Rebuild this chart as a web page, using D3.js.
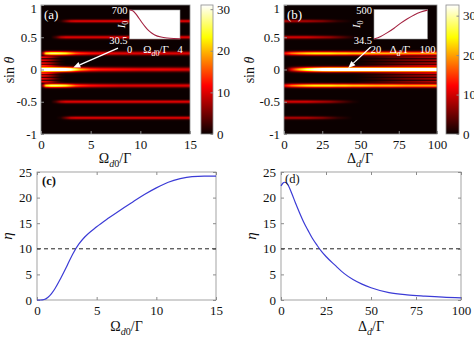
<!DOCTYPE html>
<html><head><meta charset="utf-8">
<script src="https://cdn.jsdelivr.net/npm/d3@7"></script>
<style>body{margin:0;background:#fff}svg{display:block;font-family:"Liberation Serif","Times New Roman",serif}</style>
</head><body><svg id="c" width="474" height="338" font-family="Liberation Serif, Times New Roman, serif"></svg>
<script>
// ---------------- DATA ----------------
// Panel (a): sin(theta) vs Omega_d0/Gamma ; stripe peak intensities along x
const aOmega   = [0, 0.25, 0.5, 1, 1.5, 2, 2.5, 3, 3.5, 4, 5, 6, 8, 10, 12, 15];
const aOrder0  = [45, 45, 45, 45, 43, 41, 38, 34, 26, 20, 15, 13, 12, 11, 11, 10];
const aOrder25 = [2, 10, 23, 27, 27, 26, 24, 20, 16, 14, 12, 11, 10, 10, 10, 10];
const aOrder50 = [0, 0, 0, 0, 3, 8, 10, 10, 10, 10, 10, 10, 10, 10, 10, 10];
const aOrder75 = [0, 0, 0, 0, 0, 1, 5, 9, 10, 10, 10, 10, 10, 10, 10, 10];
const aFine    = [12, 12, 11, 8, 4, 1, 0, 0, 0, 0, 0, 0, 0, 0, 0, 0];
// Panel (b): sin(theta) vs Delta_d/Gamma
const bDelta   = [0, 2, 5, 10, 15, 20, 25, 30, 35, 40, 45, 50, 60, 70, 80, 90, 100];
const bOrder0  = [0, 3, 12, 22, 30, 36, 40, 42, 42, 42, 42, 42, 42, 42, 42, 42, 42];
const bOrder25 = [11, 14, 18, 21, 23, 24, 24, 24, 23, 23, 22, 22, 21, 21, 20, 20, 20];
const bOrder50 = [10, 10, 10, 10, 10, 9, 8, 7, 5, 3, 1, 0, 0, 0, 0, 0, 0];
const bOrder75 = [8, 8, 8, 8, 8, 7, 6, 4, 2, 1, 0, 0, 0, 0, 0, 0, 0];
const bFine    = [0, 0, 0, 0, 0, 0, 0, 0, 0, 0, 0, 0.5, 2, 4, 6, 7.5, 9];
const finePos  = [0.06, 0.1, 0.145, 0.19];
// insets
const insAx = [0, 0.25, 0.5, 0.75, 1, 1.25, 1.5, 1.75, 2, 2.5, 3, 3.5, 4];
const insAy = [700, 685, 610, 510, 405, 310, 230, 170, 125, 75, 52, 41, 36];
const insBx = [20, 30, 40, 50, 60, 70, 80, 90, 100];
const insBy = [34.5, 75, 135, 205, 285, 355, 415, 460, 490];
// Panel (c)
const cOmega = [0, 0.3, 0.6, 0.9, 1.2, 1.5, 2, 2.5, 3, 3.5, 4, 5, 6, 7, 8, 9, 10, 11, 12, 13, 14, 15];
const cEta   = [0, 0, 0.1, 0.5, 1.2, 2.2, 4.3, 6.6, 9.0, 10.9, 12.3, 14.3, 16.0, 17.6, 19.1, 20.6, 21.9, 23.0, 23.7, 24.1, 24.2, 24.2];
// Panel (d)
const dDelta = [0, 1, 2, 3, 4, 6, 8, 10, 12.5, 15, 17.5, 20, 22.5, 25, 30, 35, 40, 45, 50, 60, 70, 80, 90, 100];
const dEta   = [22.3, 22.8, 23.0, 22.9, 22.4, 20.8, 19.0, 17.3, 15.3, 13.6, 12.0, 10.7, 9.5, 8.5, 6.8, 5.2, 4.0, 3.1, 2.4, 1.45, 1.0, 0.75, 0.55, 0.42];
const threshold = 10;
const sinTicks = [-1, -0.5, 0, 0.5, 1];
const aXTicks = [0, 5, 10, 15];
const bXTicks = [0, 25, 50, 75, 100];
const etaTicks = [0, 5, 10, 15, 20, 25];
const cbTicks = [0, 10, 20, 30];

// ---------------- HELPERS ----------------
const FONT = 'Liberation Serif, Times New Roman, serif';
const svg = d3.select('#c');
const defs = svg.append('defs');
const FRAME = '#8c8c8c';

function rich(sel, parts, size) {
  let shifted = 0;
  parts.forEach(p => {
    const ts = sel.append('tspan').text(p.t);
    if (p.i) ts.attr('font-style', 'italic');
    const want = p.sub ? size * 0.3 : 0;
    if (want !== shifted) { ts.attr('dy', want - shifted); shifted = want; }
    if (p.sub) ts.attr('font-size', size * 0.72);
  });
}
const OMEGA = [{t:'Ω'},{t:'d',i:true,sub:true},{t:'0',sub:true},{t:'/Γ'}];
const DELTA = [{t:'Δ'},{t:'d',i:true,sub:true},{t:'/Γ'}];
const SIN = [{t:'sin '},{t:'θ',i:true}];
const IZERO = [{t:'I',i:true},{t:'0',sub:true}];

function hotScale(cmax) {
  return d3.scaleLinear().domain([0, 0.375*cmax, 0.75*cmax, cmax])
    .range(['#0b0000', '#ff0000', '#ffff00', '#ffffff']).clamp(true);
}
function styleAxis(a) {
  a.attr('font-family', FONT);
  a.select('.domain').remove();
  a.selectAll('line').attr('stroke', FRAME);
  a.selectAll('text').attr('font-size', 13).attr('fill', '#111').attr('font-family', FONT);
}

function heatmap(o) {
  const xs = d3.scaleLinear().domain(o.xDomain).range([o.x0, o.x1]);
  const ys = d3.scaleLinear().domain([-1, 1]).range([o.y1, o.y0]);
  const color = hotScale(o.cmax);
  const g = svg.append('g');
  g.append('rect').attr('x', o.x0).attr('y', o.y0).attr('width', o.x1 - o.x0).attr('height', o.y1 - o.y0).attr('fill', color(0));
  const n = Math.round(o.y1 - o.y0);
  d3.range(n).forEach(i => {
    const s = ys.invert(o.y0 + i + 0.5);
    const vals = o.samples.map((_, k) => d3.sum(o.stripes, st => st.vals[k] * Math.exp(-((s - st.pos) ** 2) / (2 * st.sigma ** 2))));
    if (d3.max(vals) < 0.3) return;
    const gid = o.id + 'r' + i;
    const lg = defs.append('linearGradient').attr('id', gid).attr('x1', 0).attr('x2', 1).attr('y1', 0).attr('y2', 0);
    o.samples.forEach((v, k) => lg.append('stop').attr('offset', (xs(v) - o.x0) / (o.x1 - o.x0)).attr('stop-color', color(vals[k])));
    g.append('rect').attr('x', o.x0).attr('y', o.y0 + i).attr('width', o.x1 - o.x0).attr('height', 1.15).attr('fill', `url(#${gid})`);
  });
  g.append('rect').attr('x', o.x0).attr('y', o.y0).attr('width', o.x1 - o.x0).attr('height', o.y1 - o.y0)
    .attr('fill', 'none').attr('stroke', FRAME).attr('stroke-width', 0.8);
  const ya = svg.append('g').attr('transform', `translate(${o.x0},0)`)
    .call(d3.axisLeft(ys).tickValues(sinTicks).tickFormat(d => String(d)).tickSize(-3).tickPadding(4));
  const xa = svg.append('g').attr('transform', `translate(0,${o.y1})`)
    .call(d3.axisBottom(xs).tickValues(o.xTicks).tickFormat(d => String(d)).tickSize(-3).tickPadding(6));
  styleAxis(ya); styleAxis(xa);
  ya.selectAll('.tick').filter(d => d === 1).select('text').attr('dy', '0.55em');
  // colorbar
  const cs = d3.scaleLinear().domain([0, o.cmax]).range([o.y1, o.y0]);
  const cg = defs.append('linearGradient').attr('id', o.id + 'cb').attr('x1', 0).attr('x2', 0).attr('y1', 1).attr('y2', 0);
  color.domain().forEach(v => cg.append('stop').attr('offset', v / o.cmax).attr('stop-color', color(v)));
  svg.append('rect').attr('x', o.cbx).attr('y', o.y0).attr('width', o.cbw).attr('height', o.y1 - o.y0)
    .attr('fill', `url(#${o.id}cb)`).attr('stroke', FRAME).attr('stroke-width', 0.8);
  const ca = svg.append('g').attr('transform', `translate(${o.cbx + o.cbw},0)`)
    .call(d3.axisRight(cs).tickValues(cbTicks).tickFormat(d => String(d)).tickSize(-2.5).tickPadding(4));
  styleAxis(ca);
  return {xs, ys};
}

function stripesFrom(o0, o25, o50, o75, fine) {
  const st = [{pos: 0, vals: o0, sigma: 0.024},
    {pos: 0.25, vals: o25, sigma: 0.021}, {pos: -0.25, vals: o25, sigma: 0.021},
    {pos: 0.5, vals: o50, sigma: 0.018}, {pos: -0.5, vals: o50, sigma: 0.018},
    {pos: 0.75, vals: o75, sigma: 0.017}, {pos: -0.75, vals: o75, sigma: 0.017}];
  finePos.forEach(p => { st.push({pos: p, vals: fine, sigma: 0.011}); st.push({pos: -p, vals: fine, sigma: 0.011}); });
  return st;
}

function inset(o) {
  const xs = d3.scaleLinear().domain(o.xd).range([o.x0, o.x1]);
  const ys = d3.scaleLinear().domain(o.yd).range([o.y1, o.y0]);
  svg.append('rect').attr('x', o.x0).attr('y', o.y0).attr('width', o.x1 - o.x0).attr('height', o.y1 - o.y0)
    .attr('fill', '#fff').attr('stroke', '#999').attr('stroke-width', 0.6);
  svg.append('path').datum(o.x.map((v, i) => [v, o.y[i]]))
    .attr('d', d3.line().x(d => xs(d[0])).y(d => ys(d[1])).curve(d3.curveMonotoneX))
    .attr('fill', 'none').attr('stroke', '#a3213f').attr('stroke-width', 1.1);
  const t = (x, y, anchor, txt) => svg.append('text').attr('x', x).attr('y', y).attr('text-anchor', anchor)
    .attr('fill', '#fff').attr('font-size', 10.5).text(txt);
  t(o.x0 - 2, ys(o.yd[1]) + 4, 'end', o.ylab[1]);
  t(o.x0 - 2, ys(o.yd[0]) + 5, 'end', o.ylab[0]);
  t(xs(o.xd[0]) + o.x0off, o.y1 + 14, 'middle', o.xlab[0]);
  t(xs(o.xd[1]), o.y1 + 14, 'middle', o.xlab[1]);
  const xl = svg.append('text').attr('x', o.xlx).attr('y', o.y1 + 14).attr('text-anchor', 'middle').attr('fill', '#fff').attr('font-size', 11);
  rich(xl, o.xparts, 11);
  const yl = svg.append('text').attr('transform', `translate(${o.ilx},${(o.y0 + o.y1) / 2}) rotate(-90)`)
    .attr('text-anchor', 'middle').attr('fill', '#fff').attr('font-size', 11);
  rich(yl, IZERO, 11);
}

function arrow(xs, ys, from, to) {
  const x1 = xs(from[0]), y1 = ys(from[1]), x2 = xs(to[0]), y2 = ys(to[1]);
  const ang = Math.atan2(y2 - y1, x2 - x1), L = 7, W = 3;
  const bx = x2 - L * Math.cos(ang), by = y2 - L * Math.sin(ang);
  svg.append('line').attr('x1', x1).attr('y1', y1).attr('x2', bx).attr('y2', by).attr('stroke', '#fff').attr('stroke-width', 1.3);
  svg.append('path').attr('d', `M${x2},${y2}L${bx + W * Math.sin(ang)},${by - W * Math.cos(ang)}L${bx - W * Math.sin(ang)},${by + W * Math.cos(ang)}Z`).attr('fill', '#fff');
}

function axisLabelX(x, y, parts, size) {
  const t = svg.append('text').attr('x', x).attr('y', y).attr('text-anchor', 'middle').attr('font-size', size).attr('fill', '#111');
  rich(t, parts, size);
}
function axisLabelY(x, y, parts, size) {
  const t = svg.append('text').attr('transform', `translate(${x},${y}) rotate(-90)`).attr('text-anchor', 'middle').attr('font-size', size).attr('fill', '#111');
  rich(t, parts, size);
}

// ---------------- PANEL (a) ----------------
const A = heatmap({id: 'ha', x0: 41, x1: 190, y0: 5, y1: 134, xDomain: [0, 15], samples: aOmega,
  stripes: stripesFrom(aOrder0, aOrder25, aOrder50, aOrder75, aFine), cmax: 31, xTicks: aXTicks, cbx: 201, cbw: 12});
inset({x0: 129.5, x1: 180, y0: 10, y1: 39, xd: [0, 4], yd: [30.5, 700], x: insAx, y: insAy,
  ylab: ['30.5', '700'], xlab: ['0', '4'], xparts: OMEGA, xlx: 156, ilx: 125, x0off: 0});
arrow(A.xs, A.ys, [7.75, 0.33], [3.25, 0.03]);
svg.append('text').attr('x', 44).attr('y', 19).attr('fill', '#fff').attr('font-size', 13).text('(a)');
axisLabelX(115, 163, OMEGA, 14);
axisLabelY(14, 70, SIN, 14);

// ---------------- PANEL (b) ----------------
const B = heatmap({id: 'hb', x0: 284, x1: 437, y0: 5, y1: 134, xDomain: [0, 100], samples: bDelta,
  stripes: stripesFrom(bOrder0, bOrder25, bOrder50, bOrder75, bFine), cmax: 32.7, xTicks: bXTicks, cbx: 446, cbw: 13});
inset({x0: 374, x1: 427.5, y0: 9.5, y1: 39, xd: [20, 100], yd: [34.5, 500], x: insBx, y: insBy,
  ylab: ['34.5', '500'], xlab: ['20', '100'], xparts: DELTA, xlx: 400, ilx: 360, x0off: 2});
arrow(B.xs, B.ys, [56.7, 0.35], [42, 0.025]);
svg.append('text').attr('x', 287).attr('y', 19).attr('fill', '#fff').attr('font-size', 13).text('(b)');
axisLabelX(360, 163, DELTA, 14);
axisLabelY(254, 70, SIN, 14);

// ---------------- LINE PANELS ----------------
function linePanel(o) {
  const xs = d3.scaleLinear().domain(o.xd).range([o.x0, o.x1]);
  const ys = d3.scaleLinear().domain([0, 25]).range([o.y1, o.y0]);
  svg.append('rect').attr('x', o.x0).attr('y', o.y0).attr('width', o.x1 - o.x0).attr('height', o.y1 - o.y0)
    .attr('fill', '#fff').attr('stroke', FRAME).attr('stroke-width', 0.8);
  const ya = svg.append('g').attr('transform', `translate(${o.x0},0)`)
    .call(d3.axisLeft(ys).tickValues(etaTicks).tickFormat(d => String(d)).tickSize(-3).tickPadding(5));
  const xa = svg.append('g').attr('transform', `translate(0,${o.y1})`)
    .call(d3.axisBottom(xs).tickValues(o.ticks).tickFormat(d => String(d)).tickSize(-3).tickPadding(6));
  styleAxis(ya); styleAxis(xa);
  const ya2 = svg.append('g').attr('transform', `translate(${o.x1},0)`).call(d3.axisRight(ys).tickValues(etaTicks).tickSize(-3).tickFormat(''));
  const xa2 = svg.append('g').attr('transform', `translate(0,${o.y0})`).call(d3.axisTop(xs).tickValues(o.ticks).tickSize(-3).tickFormat(''));
  [ya2, xa2].forEach(a => { a.select('.domain').remove(); a.selectAll('line').attr('stroke', FRAME); });
  svg.append('line').attr('x1', o.x0).attr('x2', o.x1).attr('y1', ys(threshold)).attr('y2', ys(threshold))
    .attr('stroke', '#222').attr('stroke-width', 1).attr('stroke-dasharray', '4,3');
  svg.append('path').datum(o.x.map((v, i) => [v, o.y[i]]))
    .attr('d', d3.line().x(d => xs(d[0])).y(d => ys(d[1])).curve(d3.curveMonotoneX))
    .attr('fill', 'none').attr('stroke', '#3b3bd6').attr('stroke-width', 1.2);
  const lab = svg.append('text').attr('x', o.lx).attr('y', o.ly).attr('font-size', 12.5).attr('fill', '#111').text(o.label);
  if (o.bold) lab.attr('font-weight', 'bold');
  axisLabelX((o.x0 + o.x1) / 2, 331, o.xparts, 14);
  svg.append('text').attr('transform', `translate(${o.etax},${(o.y0 + o.y1) / 2}) rotate(-90)`)
    .attr('text-anchor', 'middle').attr('font-size', 15).attr('font-style', 'italic').attr('fill', '#111').text('η');
}
linePanel({x0: 37, x1: 216, y0: 172, y1: 300, xd: [0, 15], ticks: aXTicks, x: cOmega, y: cEta,
  label: '(c)', lx: 42, ly: 185, bold: true, xparts: OMEGA, etax: 12});
linePanel({x0: 281, x1: 461, y0: 172, y1: 300, xd: [0, 100], ticks: bXTicks, x: dDelta, y: dEta,
  label: '(d)', lx: 285, ly: 183, bold: false, xparts: DELTA, etax: 256});
</script></body></html>
